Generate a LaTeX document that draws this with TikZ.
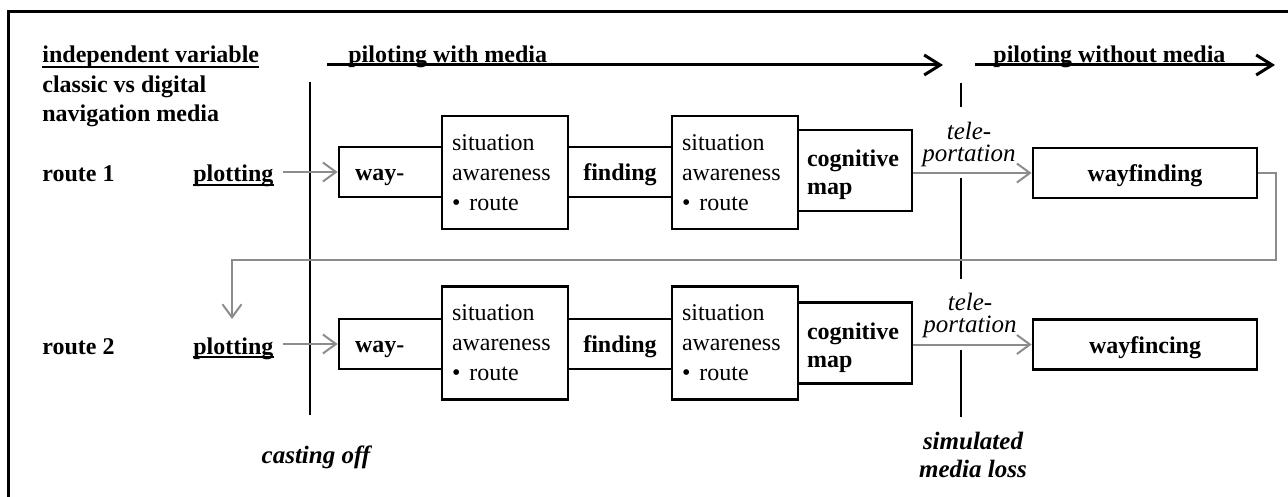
\documentclass[tikz,border=0pt]{standalone}
\usepackage{fontspec}
\setmainfont{Liberation Serif}
\usetikzlibrary{arrows.meta}
\definecolor{arrgray}{HTML}{8C8C8C}
\begin{document}
\begin{tikzpicture}[x=0.5pt,y=-0.5pt,
  txt/.style={inner sep=0pt, font=\fontsize{12pt}{14.5pt}\selectfont},
  btxt/.style={inner sep=0pt, font=\fontsize{12pt}{14.5pt}\selectfont\bfseries},
  itxt/.style={inner sep=0pt, font=\fontsize{12.5pt}{11pt}\selectfont\itshape},
  bitxt/.style={inner sep=0pt, font=\fontsize{12.5pt}{14pt}\selectfont\bfseries\itshape},
  boxbase/.style={draw, line width=1.4pt, inner ysep=0pt, fill=white},
  onerow/.style={text height=10pt, text depth=1.5pt},
  waybox/.style={boxbase, onerow, font=\fontsize{12pt}{14pt}\selectfont\bfseries, minimum height=25pt, text width=35.5pt, inner xsep=8pt, align=left},
  findbox/.style={boxbase, onerow, font=\fontsize{12pt}{14pt}\selectfont\bfseries, minimum height=25pt, text width=52pt, inner xsep=0pt, align=center},
  sabox/.style={boxbase, font=\fontsize{12pt}{15pt}\selectfont, minimum height=56.5pt, text width=53pt, inner xsep=5pt, align=left},
  cogbox/.style={boxbase, font=\fontsize{12pt}{14pt}\selectfont\bfseries, minimum height=40.5pt, text width=48pt, inner xsep=4.5pt, align=left},
  wfbox/.style={boxbase, onerow, font=\fontsize{12pt}{14pt}\selectfont\bfseries, minimum height=25pt, text width=112pt, inner xsep=0pt, align=center},
  vline/.style={draw=black, line width=1.3pt},
  uline/.style={draw=black, line width=0.8pt},
  blackarrow/.style={draw=black, line width=1.5pt, -{Straight Barb[length=8pt,width=10pt]}},
  grayarrow/.style={draw=arrgray, line width=1pt, -{Straight Barb[length=6.5pt,width=9.5pt]}},
  frameline/.style={draw=black, line width=1.5pt, line join=miter}
]
\useasboundingbox (0,0) rectangle (1288,497);
\draw[frameline] (8,520) -- (8,12) -- (1300,12);

% left column texts
\node[btxt, anchor=base west] (iv) at (42,63) {independent variable};
\node[btxt, anchor=base west] (cv) at (42,93) {classic vs digital};
\node[btxt, anchor=base west] (nm) at (42,122) {navigation media};
\node[btxt, anchor=base west] (r1) at (42,182) {route 1};
\node[btxt, anchor=base west] (p1) at (193,182) {plotting};
\node[btxt, anchor=base west] (r2) at (42,354) {route 2};
\node[btxt, anchor=base west] (p2) at (193,354) {plotting};
\draw[uline] ([yshift=-2pt]iv.base west) -- ([yshift=-2pt]iv.base east);
\draw[uline] ([yshift=-1.5pt]p1.base west) -- ([yshift=-1.5pt]p1.base east);
\draw[uline] ([yshift=-1.5pt]p2.base west) -- ([yshift=-1.5pt]p2.base east);

% phase arrows
\node[btxt, anchor=base west] (pwm) at (348,63) {piloting with media};
\node[btxt, anchor=base west] (pwo) at (993,63) {piloting without media};
\coordinate (a1s) at (327,65);
\coordinate (a1e) at (943,65);
\coordinate (a2s) at (975,65);
\coordinate (a2e) at (1275,65);
\draw[blackarrow] (a1s) -- (a1e);
\draw[blackarrow] (a2s) -- (a2e);

% casting off line
\coordinate (ct) at (310,82);
\coordinate (cb) at (310,415);
\draw[vline] (ct) -- (cb);
\node[bitxt, anchor=base] (co) at (316,463) {casting off};

% teleport line
\coordinate (t1a) at (961,83);
\coordinate (t1b) at (961,107);
\coordinate (t2a) at (961,178);
\coordinate (t2b) at (961,279);
\coordinate (t3a) at (961,350);
\coordinate (t3b) at (961,417);
\draw[vline] (t1a) -- (t1b);
\draw[vline] (t2a) -- (t2b);
\draw[vline] (t3a) -- (t3b);
\node[bitxt, align=center] (sml) at (973,455) {simulated\\media loss};
\node[itxt, align=center] (tp1) at (969,144) {tele-\\portation};
\node[itxt, align=center] (tp2) at (970,315) {tele-\\portation};

% row 1
\node[waybox] (way1) at (390.5,172) {way-};
\node[findbox] (find1) at (620,172) {finding};
\node[cogbox] (cog1) at (855,170.5) {\rule{0pt}{13pt}cognitive\\map};
\node[sabox] (sa1) at (505,172.5) {situation\\awareness\\•\hspace{4.5pt}route};
\node[sabox] (sa2) at (735,172.5) {situation\\awareness\\•\hspace{4.5pt}route};
\node[wfbox] (wf1) at (1145,173) {wayfinding};

% row 2
\node[waybox] (way2) at (390.5,344) {way-};
\node[findbox] (find2) at (620,344) {finding};
\node[cogbox] (cog2) at (855,343) {\rule{0pt}{13pt}cognitive\\map};
\node[sabox] (sa3) at (505,343) {situation\\awareness\\•\hspace{4.5pt}route};
\node[sabox] (sa4) at (735,343) {situation\\awareness\\•\hspace{4.5pt}route};
\node[wfbox] (wf2) at (1145,344.5) {wayfincing};

% gray connectors
\draw[grayarrow] ([xshift=4.5pt]p1.east |- way1.west) -- (way1.west);
\draw[grayarrow] ([xshift=4.5pt]p2.east |- way2.west) -- (way2.west);
\draw[grayarrow] (cog1.east |- wf1.west) -- (wf1.west);
\draw[grayarrow] (cog2.east |- wf2.west) -- (wf2.west);
\coordinate (lr) at (1276,260);
\coordinate (ll) at (232,260);
\coordinate (lt) at (232,319);
\draw[grayarrow] (wf1.east) -| (lr) -- (ll) -- (lt);
\end{tikzpicture}
\end{document}
